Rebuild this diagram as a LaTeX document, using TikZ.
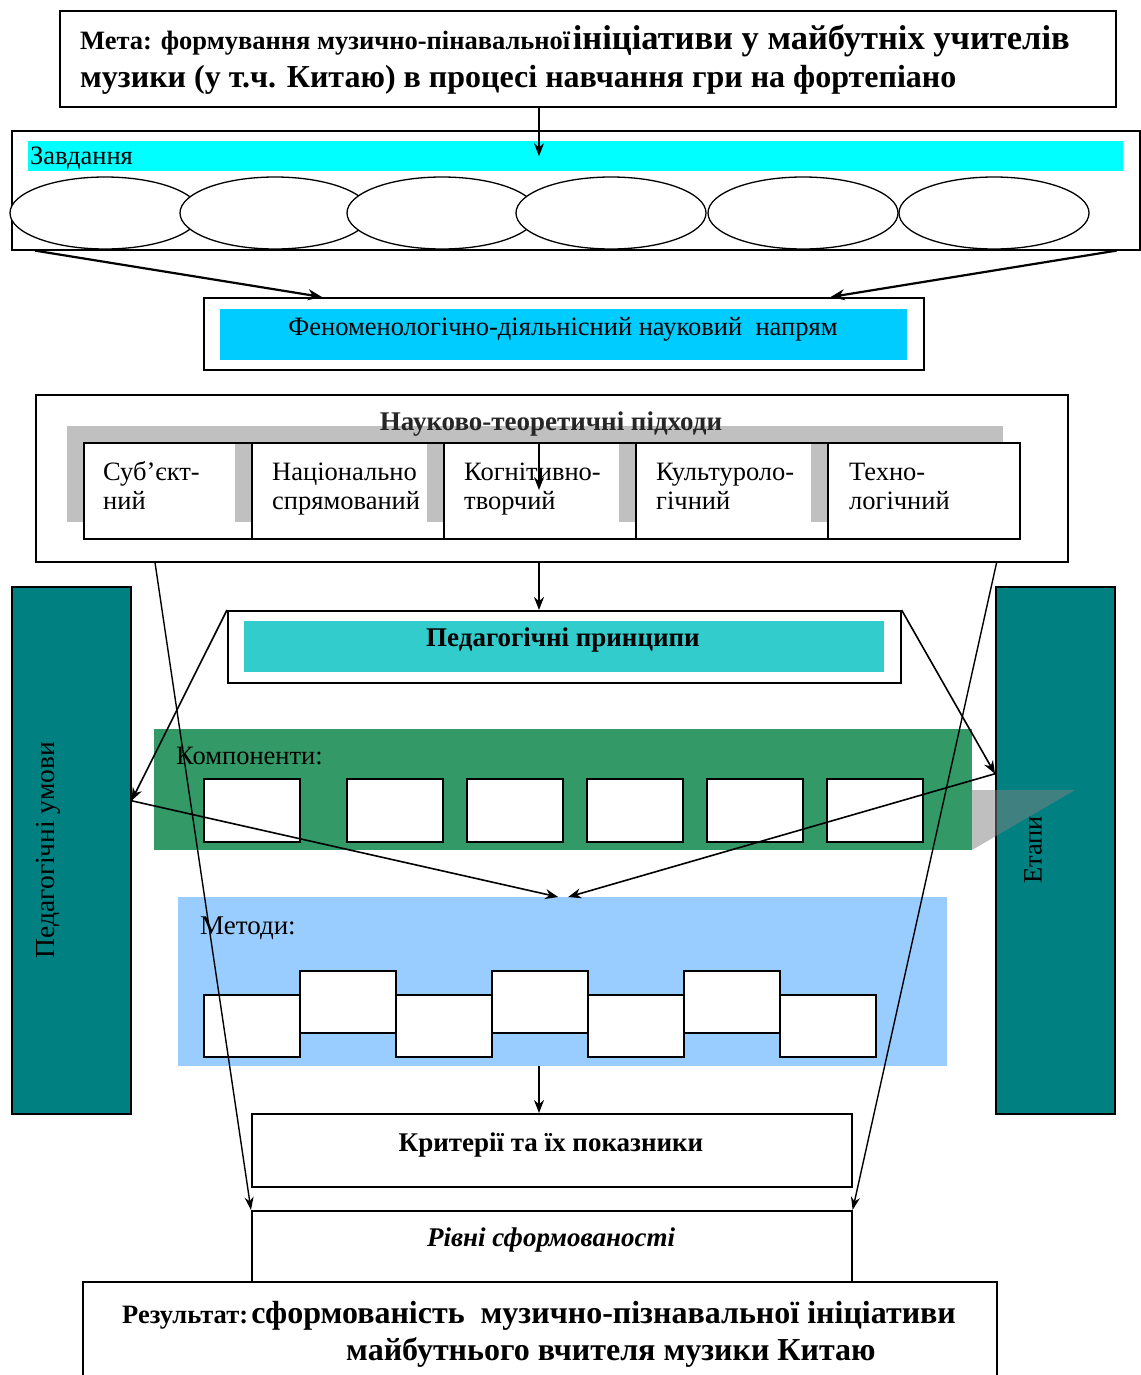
\documentclass[tikz,border=0pt]{standalone}
\usepackage{fontspec}
\setmainfont{Liberation Serif}
\usetikzlibrary{arrows.meta,shapes.geometric}
\definecolor{cyanbar}{HTML}{00FFFF}
\definecolor{phenbar}{HTML}{00CCFF}
\definecolor{princbar}{HTML}{33CCCC}
\definecolor{compgreen}{HTML}{339966}
\definecolor{methblue}{HTML}{99CCFF}
\definecolor{tealcol}{HTML}{008080}
\definecolor{shadowgray}{HTML}{C0C0C0}
\begin{document}
\begin{tikzpicture}[x=1pt,y=-1pt,
  box/.style={draw, line width=1.6pt, fill=white, inner sep=0pt, anchor=north west},
  bar/.style={draw=none, inner sep=0pt, anchor=north west},
  shadowbox/.style={draw=none, fill=shadowgray, inner sep=0pt, anchor=north west, minimum width=192pt, minimum height=96pt},
  subfill/.style={draw=none, fill=white, inner sep=0pt, anchor=north west, minimum width=192pt, minimum height=96pt},
  subbox/.style={draw, line width=1.5pt, inner sep=0pt, anchor=north west, minimum width=192pt, minimum height=96pt},
  oval/.style={draw, ellipse, fill=white, line width=1.3pt, inner sep=0pt, minimum width=190pt, minimum height=72pt},
  cbox/.style={box, line width=1.5pt, minimum width=96pt, minimum height=63pt},
  mbox/.style={box, line width=1.5pt, minimum width=96pt, minimum height=62pt},
  col/.style={box, fill=tealcol, line width=1.5pt, minimum width=119pt, minimum height=527pt},
  txt/.style={inner sep=0pt, font=\fontsize{26.5}{28.5}\selectfont},
  btxt/.style={inner sep=0pt, font=\fontsize{27}{30}\selectfont\bfseries},
  arr/.style={-{Stealth[length=13pt,width=10pt]}, line width=1.6pt},
  thick arr/.style={-{Stealth[length=14pt,width=11pt]}, line width=2.2pt},
  thin arr/.style={-{Stealth[length=13pt,width=9pt]}, line width=1.4pt}]
\useasboundingbox (0,0) rectangle (1140,1375);
\fill[white] (0,0) rectangle (1140,1375);
\coordinate (axis) at (539,0);

% Goal
\node[box, minimum width=1056pt, minimum height=96pt] (goal) at (59,10) {};
\node[inner sep=0pt, anchor=base west, font=\bfseries] (goal1) at (80,50) {{\fontsize{26.5}{30}\selectfont Мета: формування музично-пінавальної} {\fontsize{34.5}{36}\selectfont ініціативи у майбутніх учителів}};
\node[inner sep=0pt, anchor=base west, font=\fontsize{32}{36}\selectfont\bfseries] (goal2) at (80,88) {музики (у т.ч. Китаю) в процесі навчання гри на фортепіано};

% Tasks
\node[box, minimum width=1128pt, minimum height=119pt] (tasks) at (11,130) {};
\node[bar, fill=cyanbar, minimum width=1095pt, minimum height=30pt] (taskbar) at (28,141) {};
\node[txt, anchor=base west] (tasklbl) at (30,165) {Завдання};
\node[oval] (e1) at (105,213) {};
\node[oval] (e2) at (275,213) {};
\node[oval] (e3) at (442,213) {};
\node[oval] (e4) at (611,213) {};
\node[oval] (e5) at (803,213) {};
\node[oval] (e6) at (994,213) {};

% Phenomenology
\node[box, minimum width=720pt, minimum height=72pt] (phen) at (203,297) {};
\node[bar, fill=phenbar, minimum width=687pt, minimum height=51pt] (phenbar) at (220,309) {};
\node[txt, anchor=base] (phentxt) at (563,335) {Феноменологічно-діяльнісний науковий\ \ напрям};

% Approaches
\node[box, minimum width=1032pt, minimum height=167pt] (appr) at (35,394) {};
\node[shadowbox, minimum width=168pt] (s1) at (67,426) {};
\node[subfill, minimum width=168pt] (f1) at (83,442) {};
\node[shadowbox] (s2) at (235,426) {};
\node[subfill] (f2) at (251,442) {};
\node[shadowbox] (s3) at (427,426) {};
\node[subfill] (f3) at (443,442) {};
\node[shadowbox] (s4) at (619,426) {};
\node[subfill] (f4) at (635,442) {};
\node[shadowbox] (s5) at (811,426) {};
\node[subfill] (f5) at (827,442) {};
\node[btxt, anchor=base, text=black!85] (apprtitle) at (551,430) {Науково-теоретичні підходи};
\node[subbox, minimum width=168pt] (a1) at (83,442) {};
\node[subbox] (a2) at (251,442) {};
\node[subbox] (a3) at (443,442) {};
\node[subbox] (a4) at (635,442) {};
\node[subbox] (a5) at (827,442) {};
\node[txt, anchor=base west, align=left] (a1t) at (103,509) {Суб’єкт-\\ний};
\node[txt, anchor=base west, align=left] (a2t) at (272,509) {Національно\\спрямований};
\node[txt, anchor=base west, align=left] (a3t) at (464,509) {Когнітивно-\\творчий};
\node[txt, anchor=base west, align=left] (a4t) at (656,509) {Культуроло-\\гічний};
\node[txt, anchor=base west, align=left] (a5t) at (849,509) {Техно-\\логічний};
\coordinate (innerend) at (539,490);

% Principles
\node[box, minimum width=673pt, minimum height=72pt] (princ) at (227,610) {};
\node[bar, fill=princbar, minimum width=640pt, minimum height=51pt] (princbar) at (244,621) {};
\node[btxt, anchor=base] (princtxt) at (563,646) {Педагогічні принципи};

% Side columns
\node[col] (cond) at (11,586) {};
\node[txt, rotate=90, font=\fontsize{27.5}{30}\selectfont] (condtxt) at (48,850) {Педагогічні умови};
\node[col] (stages) at (995,586) {};
\node[txt, rotate=90] (stagestxt) at (1033,850) {Етапи};

% Components
\node[bar, fill=compgreen, minimum width=818pt, minimum height=121pt] (comp) at (154,729) {};
\fill[gray, opacity=0.5] (972,790) -- (1075,790) -- (972,850) -- cycle;
\node[txt, anchor=base west] (comptxt) at (176,764) {Компоненти:};
\node[cbox] (c1) at (203,778) {};
\node[cbox] (c2) at (346,778) {};
\node[cbox] (c3) at (466,778) {};
\node[cbox] (c4) at (586,778) {};
\node[cbox] (c5) at (706,778) {};
\node[cbox] (c6) at (826,778) {};

% Methods
\node[bar, fill=methblue, minimum width=769pt, minimum height=169pt] (meth) at (178,897) {};
\node[txt, anchor=base west, font=\fontsize{27}{30}\selectfont] (methtxt) at (200,934) {Методи:};
\node[mbox] (m1) at (203,994) {};
\node[mbox] (m2) at (299,970) {};
\node[mbox] (m3) at (395,994) {};
\node[mbox] (m4) at (491,970) {};
\node[mbox] (m5) at (587,994) {};
\node[mbox] (m6) at (683,970) {};
\node[mbox] (m7) at (779,994) {};

% Criteria / levels
\node[box, minimum width=600pt, minimum height=73pt] (crit) at (251,1113) {};
\node[btxt, anchor=base] (crittxt) at (551,1151) {Критерії та їх показники};
\node[box, minimum width=600pt, minimum height=72pt] (levels) at (251,1210) {};
\node[btxt, anchor=base, font=\fontsize{27}{30}\selectfont\bfseries\itshape] (levelstxt) at (551,1246) {Рівні сформованості};

% Result
\draw[line width=1.6pt, fill=white] (83,1385) -- (83,1282) -- (997,1282) -- (997,1385);
\coordinate (resanchor) at (83,1282);
\node[inner sep=0pt, anchor=base west, font=\bfseries] (res1) at (122,1323) {{\fontsize{26.5}{30}\selectfont Результат:} {\fontsize{32}{36}\selectfont сформованість\ \ музично-пізнавальної ініціативи}};
\node[inner sep=0pt, anchor=base west, font=\fontsize{32}{36}\selectfont\bfseries] (res2) at (346,1360) {майбутнього вчителя музики Китаю};

% Connectors
\draw[arr] (axis |- goal.south) -- (axis |- taskbar.center);
\draw[thick arr] ([xshift=24pt]tasks.south west) -- ([xshift=119pt]phen.north west);
\draw[thick arr] ([xshift=-24pt]tasks.south east) -- ([xshift=-94pt]phen.north east);
\draw[arr] (axis |- a3.north) -- (innerend);
\draw[arr] (axis |- appr.south) -- (axis |- princ.north);
\draw[thin arr] ([xshift=120pt]appr.south west) -- (levels.north west);
\draw[thin arr] ([xshift=-72pt]appr.south east) -- (levels.north east);
\draw[arr] (princ.north west) -- ([yshift=49.5pt]cond.east);
\draw[arr] (princ.north east) -- ([yshift=76.5pt]stages.west);
\draw[arr] ([yshift=49.5pt]cond.east) -- ([xshift=-4.5pt]meth.north);
\draw[arr] ([yshift=76.5pt]stages.west) -- ([xshift=5.5pt]meth.north);
\draw[arr] (axis |- meth.south) -- (axis |- crit.north);
\end{tikzpicture}
\end{document}
